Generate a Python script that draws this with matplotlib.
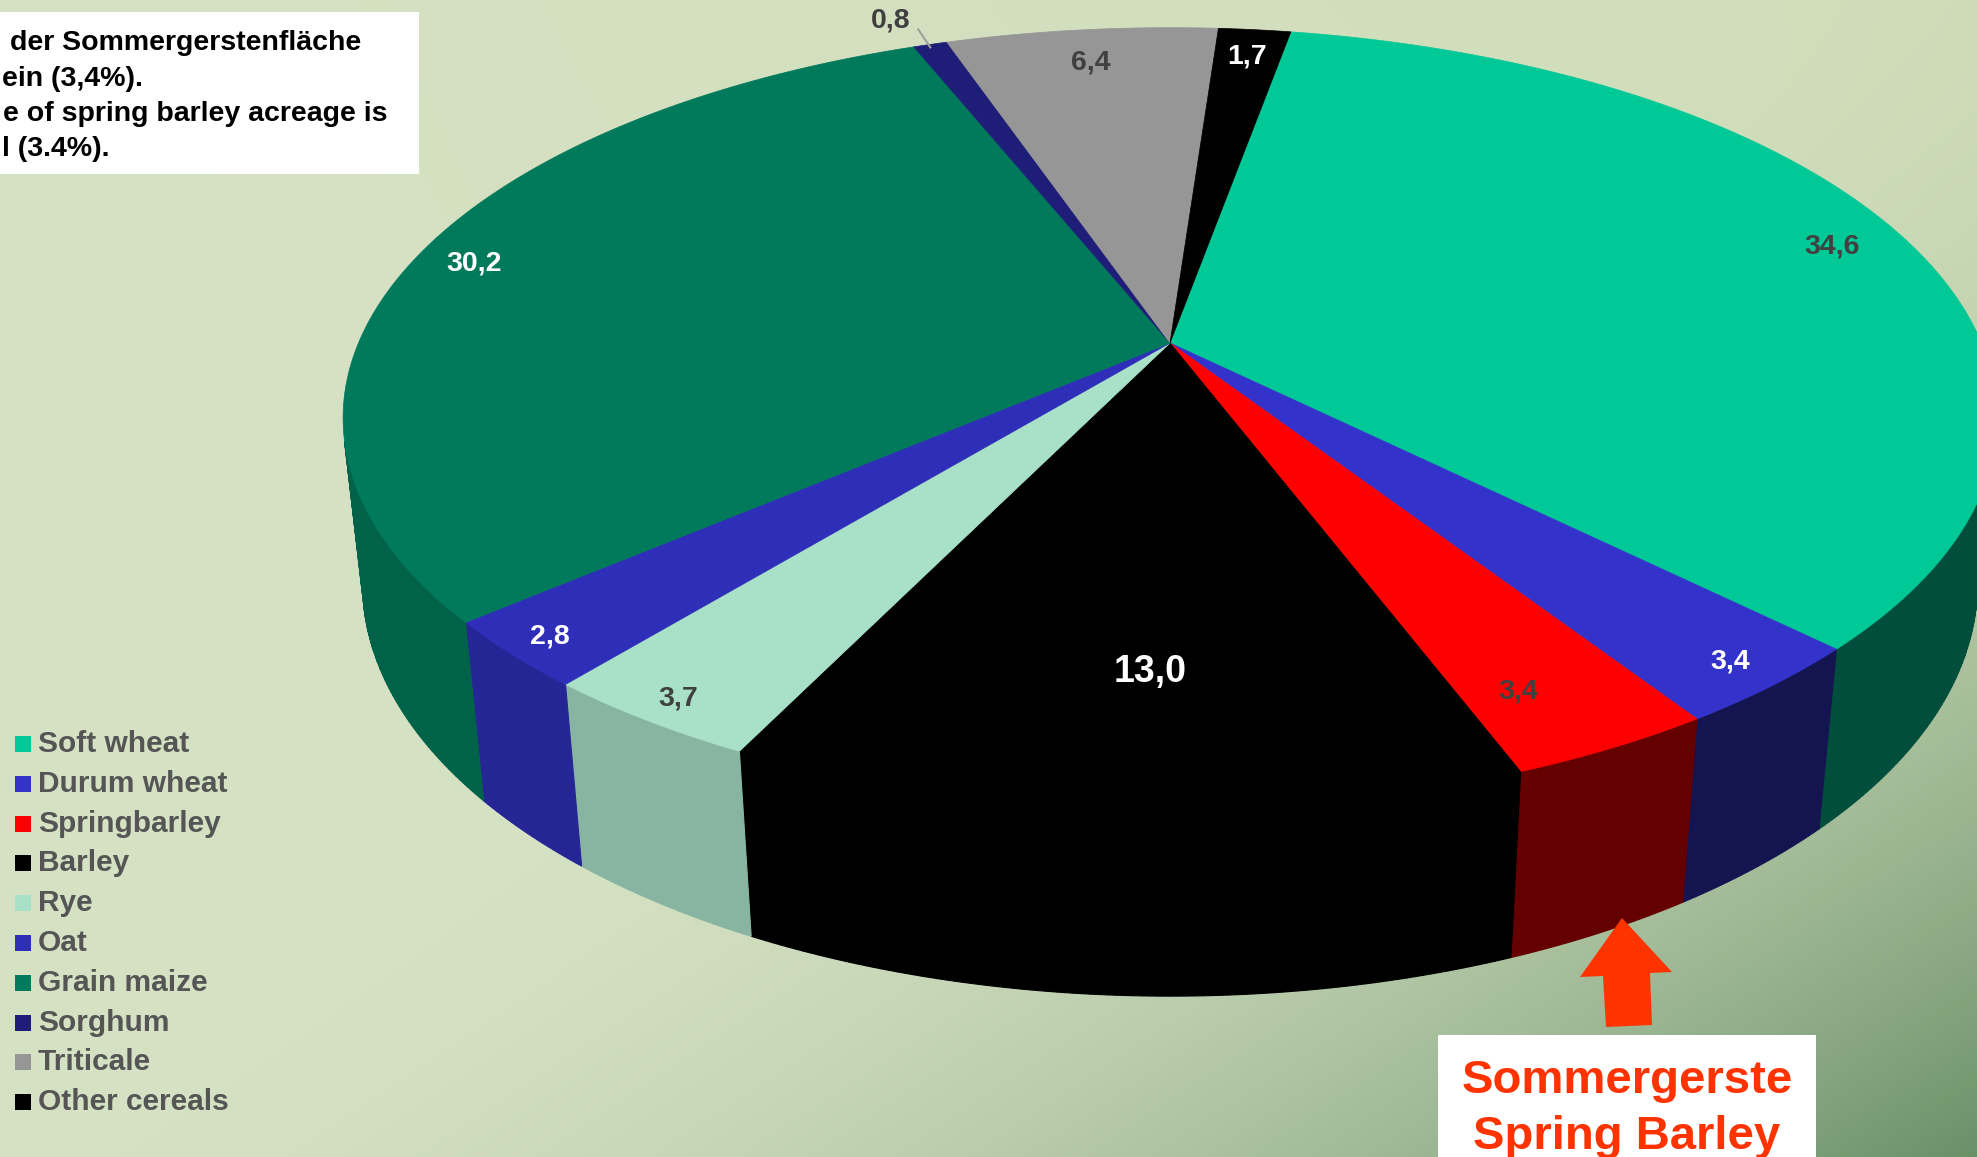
import numpy as np
import matplotlib
matplotlib.use('Agg')
import matplotlib.pyplot as plt
from matplotlib.patches import Polygon, Rectangle

plt.rcParams['font.family'] = ['Liberation Sans', 'DejaVu Sans']

# cereal acreage shares (%), clockwise from the top
categories = ['Soft wheat', 'Durum wheat', 'Springbarley', 'Barley', 'Rye', 'Oat',
              'Grain maize', 'Sorghum', 'Triticale', 'Other cereals']
shares = [34.6, 3.4, 3.4, 13.0, 3.7, 2.8, 30.2, 0.8, 6.4, 1.7]
top_colors = ['#00C896', '#3333CC', '#FF0000', '#000000', '#A8E0C8', '#2E2EB8',
              '#007A5A', '#1E1E78', '#969696', '#000000']
label_colors = ['#404040', 'white', '#404040', 'white', '#404040', 'white',
                'white', '#404040', '#404040', 'white']

# label placement (fraction of radius) and a few manual nudges in pixels
label_radius = [0.9, 0.94, 0.9, 0.75, 0.95, 0.95, 0.92, 1.12, 0.88, 0.9]
nudges = {'Springbarley': (-42, -8), 'Sorghum': (-16, 6), 'Barley': (13, 0)}

W, H = 1977, 1157

# perspective camera for the 3d pie
elev = np.radians(27.6)
s_e, c_e = np.sin(elev), np.cos(elev)
D = 4.61          # camera distance (pie radius = 1)
F = 3741.0        # focal length in pixels
cx, cy = 1170, 343
thick = 0.232     # pie height
start = 79.8      # angle of the first slice edge (deg)


def proj(x, y, z):
    d = D + c_e * y - s_e * z
    return cx + F * x / d, cy - F * (s_e * y + c_e * z) / d


def rim(phi, r=1.0, z=0.0):
    a = np.radians(phi)
    return proj(r * np.cos(a), r * np.sin(a), z)


def shade(phi):
    p = (phi + 180) % 360 - 180
    return 0.6 + 0.21 * np.tanh(-(p + 90) / 10)


fig = plt.figure(figsize=(W / 100, H / 100), dpi=100)
ax = fig.add_axes([0, 0, 1, 1])
ax.set_xlim(0, W)
ax.set_ylim(H, 0)
ax.axis('off')

# background: pale green, darkening into the lower right corner
yy, xx = np.mgrid[0:H, 0:W]
t = 0.52 * xx / W + 0.48 * yy / H
w = np.clip((t - 0.45) / 0.55, 0, 1) ** 2
light = np.array([214, 226, 196]) / 255
tint = np.array([-6, -5, -11]) / 255
dark = np.array([106, 144, 104]) / 255
base = light[None, None, :] + tint[None, None, :] * (xx / W)[..., None] * (1 - yy / H)[..., None]
bg = base * (1 - w[..., None]) + dark[None, None, :] * w[..., None]
ax.imshow(np.clip(bg, 0, 1), extent=(0, W, H, 0), aspect='auto', zorder=0)

bounds = start - 3.6 * np.concatenate([[0], np.cumsum(shares)])
vis_lim = -1.0 / (D * c_e)

# side walls, drawn as thin shaded strips
for i, col in enumerate(top_colors):
    a0, a1 = bounds[i], bounds[i + 1]
    m = max(3, int(abs(a0 - a1) * 2))
    phis = np.linspace(a0, a1, m)
    rgb = np.array(matplotlib.colors.to_rgb(col))
    for p0, p1 in zip(phis[:-1], phis[1:]):
        pm = 0.5 * (p0 + p1)
        if np.sin(np.radians(pm)) >= vis_lim:
            continue
        quad = [rim(p0), rim(p1), rim(p1, z=-thick), rim(p0, z=-thick)]
        fc = rgb * shade(pm)
        ax.add_patch(Polygon(quad, closed=True, fc=fc, ec=fc, lw=0.8, zorder=2))

# top faces
for i, col in enumerate(top_colors):
    a0, a1 = bounds[i], bounds[i + 1]
    m = max(3, int(abs(a0 - a1) * 2))
    pts = [proj(0, 0, 0)] + [rim(p) for p in np.linspace(a0, a1, m)]
    ax.add_patch(Polygon(pts, closed=True, fc=col, ec=col, lw=0.5, zorder=3))

# value labels
for i, name in enumerate(categories):
    mid = 0.5 * (bounds[i] + bounds[i + 1])
    x, y = rim(mid, r=label_radius[i])
    dx, dy = nudges.get(name, (0, 0))
    txt = f'{shares[i]:.1f}'.replace('.', ',')
    size = 27 if name == 'Barley' else 20.5
    ax.text(x + dx, y + dy, txt, color=label_colors[i], fontsize=size,
            fontweight='bold', ha='center', va='center', zorder=6)
    if label_radius[i] > 1:
        p_in = rim(mid, r=1.0)
        p_out = rim(mid, r=1.06)
        ax.plot([p_in[0], p_out[0]], [p_in[1] + 3, p_out[1]], color='#A0A0A0',
                lw=1.5, zorder=5)

# legend
for i, name in enumerate(categories):
    y = 744 + i * 39.8
    ax.add_patch(Rectangle((15, y - 8), 16, 16, fc=top_colors[i], ec='none', zorder=6))
    ax.text(38, y, name, color='#555555', fontsize=21.5, fontweight='bold',
            ha='left', va='center', zorder=6)

# note box top left
ax.add_patch(Rectangle((0, 12), 419, 162, fc='white', ec='none', zorder=6))
note = [(10, 50, 'der Sommergerstenfläche'), (2, 86, 'ein (3,4%).'),
        (3, 121, 'e of spring barley acreage is'), (2, 156, 'l (3.4%).')]
for x, y, line in note:
    ax.text(x, y, line, color='black', fontsize=20.5, fontweight='bold',
            ha='left', va='baseline', zorder=7)

# highlight for spring barley
arrow = [(1622, 918), (1672, 972), (1650, 973), (1652, 1025), (1606, 1027),
         (1603, 976), (1580, 977)]
ax.add_patch(Polygon(arrow, closed=True, fc='#FF3300', ec='none', zorder=6))
ax.add_patch(Rectangle((1438, 1035), 378, 130, fc='white', ec='none', zorder=6))
ax.text(1627, 1093, 'Sommergerste', color='#FF3300', fontsize=34, fontweight='bold',
        ha='center', va='baseline', zorder=7)
ax.text(1627, 1149, 'Spring Barley', color='#FF3300', fontsize=34, fontweight='bold',
        ha='center', va='baseline', zorder=7)

fig.savefig('out.png', dpi=100)
